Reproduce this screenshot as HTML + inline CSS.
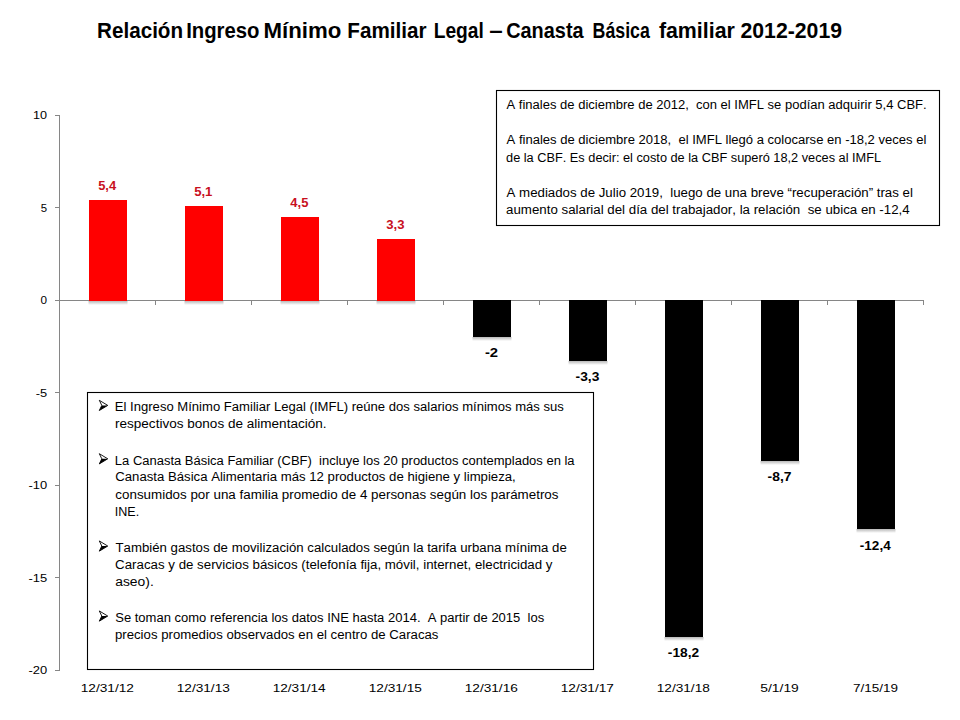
<!DOCTYPE html>
<html><head><meta charset="utf-8"><title>Relación IMFL – CBF</title>
<style>
html,body{margin:0;padding:0;background:#fff;}
body{width:960px;height:720px;overflow:hidden;}
svg{display:block;}
text{font-family:"Liberation Sans", sans-serif;white-space:pre;font-variant-ligatures:none;font-kerning:none;}
</style></head><body>
<svg width="960" height="720" viewBox="0 0 960 720">
<defs><linearGradient id="sh" x1="0" y1="0" x2="0" y2="1"><stop offset="0" stop-color="#000" stop-opacity="0.28"/><stop offset="1" stop-color="#000" stop-opacity="0"/></linearGradient></defs>
<rect x="0" y="0" width="960" height="720" fill="#fff"/>
<text x="97.12" y="37.50" font-size="22" font-weight="bold" fill="#000" textLength="85.96" lengthAdjust="spacingAndGlyphs">Relación</text>
<text x="186.14" y="37.50" font-size="22" font-weight="bold" fill="#000" textLength="73.40" lengthAdjust="spacingAndGlyphs">Ingreso</text>
<text x="263.51" y="37.50" font-size="22" font-weight="bold" fill="#000" textLength="77.86" lengthAdjust="spacingAndGlyphs">Mínimo</text>
<text x="347.37" y="37.50" font-size="22" font-weight="bold" fill="#000" textLength="79.19" lengthAdjust="spacingAndGlyphs">Familiar</text>
<text x="433.72" y="37.50" font-size="22" font-weight="bold" fill="#000" textLength="50.14" lengthAdjust="spacingAndGlyphs">Legal</text>
<text x="489.27" y="37.50" font-size="22" font-weight="bold" fill="#000" textLength="13.48" lengthAdjust="spacingAndGlyphs">–</text>
<text x="506.18" y="37.50" font-size="22" font-weight="bold" fill="#000" textLength="77.44" lengthAdjust="spacingAndGlyphs">Canasta</text>
<text x="592.56" y="37.50" font-size="22" font-weight="bold" fill="#000" textLength="57.33" lengthAdjust="spacingAndGlyphs">Básica</text>
<text x="658.89" y="37.50" font-size="22" font-weight="bold" fill="#000" textLength="75.94" lengthAdjust="spacingAndGlyphs">familiar</text>
<text x="740.51" y="37.50" font-size="22" font-weight="bold" fill="#000" textLength="101.52" lengthAdjust="spacingAndGlyphs">2012-2019</text>
<g stroke="#868686" stroke-width="1" fill="none">
<path d="M59.5,115 V671"/>
<path d="M59.5,300.5 H924.0"/>
<path d="M55,115.5 H59.5"/>
<path d="M55,207.5 H59.5"/>
<path d="M55,300.5 H59.5"/>
<path d="M55,392.5 H59.5"/>
<path d="M55,485.5 H59.5"/>
<path d="M55,577.5 H59.5"/>
<path d="M55,670.5 H59.5"/>
<path d="M155.5,300 V305"/>
<path d="M251.5,300 V305"/>
<path d="M347.5,300 V305"/>
<path d="M443.5,300 V305"/>
<path d="M539.5,300 V305"/>
<path d="M635.5,300 V305"/>
<path d="M731.5,300 V305"/>
<path d="M827.5,300 V305"/>
<path d="M923.5,300 V305"/>
</g>
<rect x="88.5" y="301" width="39" height="4" fill="url(#sh)"/>
<rect x="89" y="200" width="38" height="101" fill="#ff0000"/>
<rect x="184.5" y="301" width="39" height="4" fill="url(#sh)"/>
<rect x="185" y="206" width="38" height="95" fill="#ff0000"/>
<rect x="280.5" y="301" width="39" height="4" fill="url(#sh)"/>
<rect x="281" y="217" width="38" height="84" fill="#ff0000"/>
<rect x="376.5" y="301" width="39" height="4" fill="url(#sh)"/>
<rect x="377" y="239" width="38" height="62" fill="#ff0000"/>
<rect x="472.5" y="337" width="39" height="4" fill="url(#sh)"/>
<rect x="473" y="300" width="38" height="37" fill="#000"/>
<rect x="568.5" y="361" width="39" height="4" fill="url(#sh)"/>
<rect x="569" y="300" width="38" height="61" fill="#000"/>
<rect x="664.5" y="637" width="39" height="4" fill="url(#sh)"/>
<rect x="665" y="300" width="38" height="337" fill="#000"/>
<rect x="760.5" y="461" width="39" height="4" fill="url(#sh)"/>
<rect x="761" y="300" width="38" height="161" fill="#000"/>
<rect x="856.5" y="529" width="39" height="4" fill="url(#sh)"/>
<rect x="857" y="300" width="38" height="229" fill="#000"/>
<text x="33.04" y="119.30" font-size="11" fill="#000" textLength="14.06" lengthAdjust="spacingAndGlyphs">10</text>
<text x="40.74" y="211.80" font-size="11" fill="#000" textLength="6.33" lengthAdjust="spacingAndGlyphs">5</text>
<text x="40.54" y="304.30" font-size="11" fill="#000" textLength="6.52" lengthAdjust="spacingAndGlyphs">0</text>
<text x="35.73" y="396.80" font-size="11" fill="#000" textLength="11.41" lengthAdjust="spacingAndGlyphs">-5</text>
<text x="28.43" y="489.30" font-size="11" fill="#000" textLength="18.68" lengthAdjust="spacingAndGlyphs">-10</text>
<text x="28.42" y="581.80" font-size="11" fill="#000" textLength="18.72" lengthAdjust="spacingAndGlyphs">-15</text>
<text x="28.43" y="674.30" font-size="11" fill="#000" textLength="18.68" lengthAdjust="spacingAndGlyphs">-20</text>
<text x="80.71" y="692.20" font-size="11.5" fill="#000" textLength="53.23" lengthAdjust="spacingAndGlyphs">12/31/12</text>
<text x="176.71" y="692.20" font-size="11.5" fill="#000" textLength="53.14" lengthAdjust="spacingAndGlyphs">12/31/13</text>
<text x="272.71" y="692.20" font-size="11.5" fill="#000" textLength="52.93" lengthAdjust="spacingAndGlyphs">12/31/14</text>
<text x="368.71" y="692.20" font-size="11.5" fill="#000" textLength="53.11" lengthAdjust="spacingAndGlyphs">12/31/15</text>
<text x="464.71" y="692.20" font-size="11.5" fill="#000" textLength="53.14" lengthAdjust="spacingAndGlyphs">12/31/16</text>
<text x="560.71" y="692.20" font-size="11.5" fill="#000" textLength="53.23" lengthAdjust="spacingAndGlyphs">12/31/17</text>
<text x="656.71" y="692.20" font-size="11.5" fill="#000" textLength="53.13" lengthAdjust="spacingAndGlyphs">12/31/18</text>
<text x="760.30" y="692.20" font-size="11.5" fill="#000" textLength="38.51" lengthAdjust="spacingAndGlyphs">5/1/19</text>
<text x="852.96" y="692.20" font-size="11.5" fill="#000" textLength="45.03" lengthAdjust="spacingAndGlyphs">7/15/19</text>
<text x="98.15" y="190.10" font-size="12.5" font-weight="bold" fill="#c8101e" textLength="17.97" lengthAdjust="spacingAndGlyphs">5,4</text>
<text x="194.15" y="195.65" font-size="12.5" font-weight="bold" fill="#c8101e" textLength="18.27" lengthAdjust="spacingAndGlyphs">5,1</text>
<text x="290.35" y="206.75" font-size="12.5" font-weight="bold" fill="#c8101e" textLength="18.06" lengthAdjust="spacingAndGlyphs">4,5</text>
<text x="386.25" y="228.95" font-size="12.5" font-weight="bold" fill="#c8101e" textLength="18.28" lengthAdjust="spacingAndGlyphs">3,3</text>
<text x="484.92" y="357.30" font-size="12.5" font-weight="bold" fill="#000" textLength="13.17" lengthAdjust="spacingAndGlyphs">-2</text>
<text x="575.61" y="381.35" font-size="12.5" font-weight="bold" fill="#000" textLength="23.74" lengthAdjust="spacingAndGlyphs">-3,3</text>
<text x="667.86" y="657.00" font-size="12.5" font-weight="bold" fill="#000" textLength="31.29" lengthAdjust="spacingAndGlyphs">-18,2</text>
<text x="767.61" y="481.25" font-size="12.5" font-weight="bold" fill="#000" textLength="23.85" lengthAdjust="spacingAndGlyphs">-8,7</text>
<text x="859.87" y="549.70" font-size="12.5" font-weight="bold" fill="#000" textLength="30.80" lengthAdjust="spacingAndGlyphs">-12,4</text>
<rect x="496.5" y="90.5" width="443" height="135" fill="#fff" stroke="#000" stroke-width="1.1"/>
<text x="506.57" y="109.00" font-size="12.5" fill="#000" textLength="420.11" lengthAdjust="spacingAndGlyphs">A finales de diciembre de 2012,  con el IMFL se podían adquirir 5,4 CBF.</text>
<text x="506.57" y="144.25" font-size="12.5" fill="#000" textLength="419.80" lengthAdjust="spacingAndGlyphs">A finales de diciembre 2018,  el IMFL llegó a colocarse en -18,2 veces el</text>
<text x="506.06" y="161.75" font-size="12.5" fill="#000" textLength="375.06" lengthAdjust="spacingAndGlyphs">de la CBF. Es decir: el costo de la CBF superó 18,2 veces al IMFL</text>
<text x="506.57" y="196.75" font-size="12.5" fill="#000" textLength="406.31" lengthAdjust="spacingAndGlyphs">A mediados de Julio 2019,  luego de una breve “recuperación” tras el</text>
<text x="506.04" y="214.25" font-size="12.5" fill="#000" textLength="403.65" lengthAdjust="spacingAndGlyphs">aumento salarial del día del trabajador, la relación  se ubica en -12,4</text>
<rect x="87.5" y="392.5" width="506" height="277" fill="#fff" stroke="#000" stroke-width="1.1"/>
<text x="114.83" y="411.10" font-size="12.5" fill="#000" textLength="449.04" lengthAdjust="spacingAndGlyphs">El Ingreso Mínimo Familiar Legal (IMFL) reúne dos salarios mínimos más sus</text>
<g transform="translate(0,0.00)"><path d="M99.3,400.3 L107.75,405.4 L99.3,410.5 L101.8,405.4 Z" fill="none" stroke="#000" stroke-width="0.9" stroke-linejoin="miter"/><path d="M101.8,405.4 L107.75,405.4 L99.3,410.5 Z" fill="#000"/></g>
<text x="115.00" y="428.00" font-size="12.5" fill="#000" textLength="211.54" lengthAdjust="spacingAndGlyphs">respectivos bonos de alimentación.</text>
<text x="114.83" y="464.50" font-size="12.5" fill="#000" textLength="459.77" lengthAdjust="spacingAndGlyphs">La Canasta Básica Familiar (CBF)  incluye los 20 productos contemplados en la</text>
<g transform="translate(0,53.40)"><path d="M99.3,400.3 L107.75,405.4 L99.3,410.5 L101.8,405.4 Z" fill="none" stroke="#000" stroke-width="0.9" stroke-linejoin="miter"/><path d="M101.8,405.4 L107.75,405.4 L99.3,410.5 Z" fill="#000"/></g>
<text x="115.23" y="481.25" font-size="12.5" fill="#000" textLength="400.55" lengthAdjust="spacingAndGlyphs">Canasta Básica Alimentaria más 12 productos de higiene y limpieza,</text>
<text x="115.33" y="498.75" font-size="12.5" fill="#000" textLength="443.15" lengthAdjust="spacingAndGlyphs">consumidos por una familia promedio de 4 personas según los parámetros</text>
<text x="114.74" y="515.50" font-size="12.5" fill="#000" textLength="24.40" lengthAdjust="spacingAndGlyphs">INE.</text>
<text x="115.50" y="551.75" font-size="12.5" fill="#000" textLength="451.33" lengthAdjust="spacingAndGlyphs">También gastos de movilización calculados según la tarifa urbana mínima de</text>
<g transform="translate(0,140.65)"><path d="M99.3,400.3 L107.75,405.4 L99.3,410.5 L101.8,405.4 Z" fill="none" stroke="#000" stroke-width="0.9" stroke-linejoin="miter"/><path d="M101.8,405.4 L107.75,405.4 L99.3,410.5 Z" fill="#000"/></g>
<text x="115.12" y="568.75" font-size="12.5" fill="#000" textLength="437.40" lengthAdjust="spacingAndGlyphs">Caracas y de servicios básicos (telefonía fija, móvil, internet, electricidad y</text>
<text x="115.21" y="586.25" font-size="12.5" fill="#000" textLength="38.56" lengthAdjust="spacingAndGlyphs">aseo).</text>
<text x="115.21" y="621.75" font-size="12.5" fill="#000" textLength="429.01" lengthAdjust="spacingAndGlyphs">Se toman como referencia los datos INE hasta 2014.  A partir de 2015  los</text>
<g transform="translate(0,210.65)"><path d="M99.3,400.3 L107.75,405.4 L99.3,410.5 L101.8,405.4 Z" fill="none" stroke="#000" stroke-width="0.9" stroke-linejoin="miter"/><path d="M101.8,405.4 L107.75,405.4 L99.3,410.5 Z" fill="#000"/></g>
<text x="114.95" y="639.25" font-size="12.5" fill="#000" textLength="323.53" lengthAdjust="spacingAndGlyphs">precios promedios observados en el centro de Caracas</text>
</svg>
</body></html>
